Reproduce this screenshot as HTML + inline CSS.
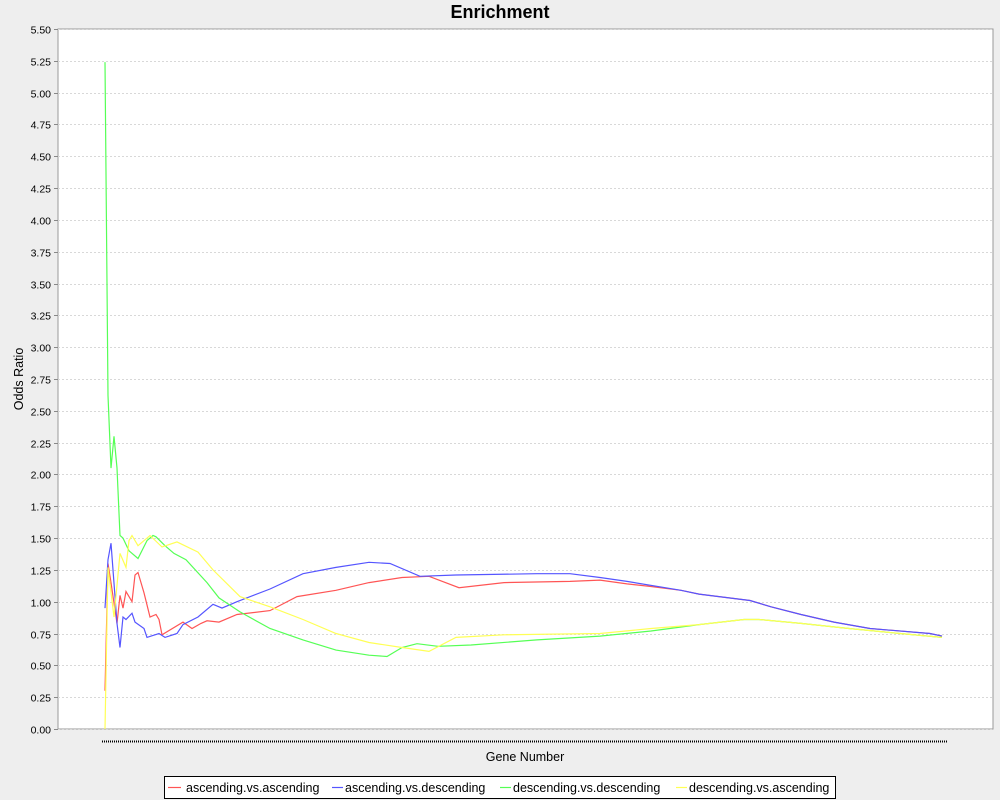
<!DOCTYPE html>
<html><head><meta charset="utf-8"><style>
html,body{margin:0;padding:0;background:#eeeeee;}
svg{display:block;font-family:"Liberation Sans","DejaVu Sans",sans-serif;}
</style></head><body>
<svg id="chart" width="1000" height="800">
<rect x="0" y="0" width="1000" height="800" fill="#eeeeee"/>
<text x="500" y="18" text-anchor="middle" font-size="18" font-weight="bold" fill="#000">Enrichment</text>
<rect x="58" y="29" width="935" height="700" fill="#ffffff" stroke="#999" stroke-width="1"/>
<g id="grid"></g>
<g id="yaxis"></g>
<line x1="102" y1="741.5" x2="948" y2="741.5" stroke="#000" stroke-width="2" stroke-dasharray="1,1"/>
<text x="525" y="761" text-anchor="middle" font-size="12.5" fill="#000">Gene Number</text>
<text transform="translate(23,379) rotate(-90)" text-anchor="middle" font-size="12.5" fill="#000">Odds Ratio</text>
<g id="series"></g>
<g>
<rect x="164.5" y="776.5" width="671" height="22" fill="#fff" stroke="#000" stroke-width="1"/>
<g><line x1="168" y1="787.5" x2="181" y2="787.5" stroke="#ff5555" stroke-width="1.2"/><text x="186" y="792" font-size="12.5">ascending.vs.ascending</text></g>
<g><line x1="332" y1="787.5" x2="343" y2="787.5" stroke="#5555ff" stroke-width="1.2"/><text x="345" y="792" font-size="12.5">ascending.vs.descending</text></g>
<g><line x1="500" y1="787.5" x2="511" y2="787.5" stroke="#55ff55" stroke-width="1.2"/><text x="513" y="792" font-size="12.5">descending.vs.descending</text></g>
<g><line x1="676" y1="787.5" x2="687" y2="787.5" stroke="#ffff55" stroke-width="1.2"/><text x="689" y="792" font-size="12.5">descending.vs.ascending</text></g>
</g>
</svg>
<script>
const yTicks = [0,0.25,0.5,0.75,1,1.25,1.5,1.75,2,2.25,2.5,2.75,3,3.25,3.5,3.75,4,4.25,4.5,4.75,5,5.25,5.5];
const redGenes = [0,1,2,4,5,6,7,9,10,11,13,15,17,18,19,26,29,32,34,38,44,55,64,77,88,99,108,118,133,155,165,174,182,192,198,215,222,232,243,255,275,279];
const redValues = [0.3,1.30,1.15,0.83,1.05,0.95,1.08,1.0,1.21,1.23,1.07,0.88,0.90,0.86,0.74,0.84,0.79,0.83,0.85,0.84,0.90,0.93,1.04,1.09,1.15,1.19,1.20,1.11,1.15,1.16,1.17,1.14,1.12,1.09,1.06,1.01,0.96,0.90,0.84,0.79,0.75,0.73];
const blueGenes = [0,1,2,4,5,6,7,9,10,13,14,18,20,24,26,31,36,39,44,55,66,77,88,95,105,117,144,155,165,174,192,198,215,222,232,243,255,275,279];
const blueValues = [0.95,1.33,1.46,0.83,0.64,0.88,0.86,0.91,0.84,0.79,0.72,0.75,0.72,0.75,0.82,0.88,0.98,0.95,1.0,1.10,1.22,1.27,1.31,1.30,1.20,1.21,1.22,1.22,1.19,1.16,1.09,1.06,1.01,0.96,0.90,0.84,0.79,0.75,0.73];
const greenGenes = [0,1,2,3,4,5,6,7,8,11,14,16,17,20,23,27,34,38,45,55,66,77,88,94,99,104,111,122,144,165,182,198,213,218,232,248,265,279];
const greenValues = [5.24,2.62,2.05,2.30,2.05,1.52,1.50,1.45,1.40,1.34,1.48,1.52,1.51,1.44,1.38,1.33,1.15,1.03,0.92,0.79,0.70,0.62,0.58,0.57,0.64,0.67,0.65,0.66,0.70,0.73,0.77,0.82,0.86,0.86,0.83,0.79,0.75,0.72];
const yellowGenes = [0,1,3,5,7,8,9,11,15,19,24,31,36,45,55,66,77,88,99,108,117,133,165,182,198,213,218,232,248,265,279];
const yellowValues = [0.0,1.27,0.88,1.38,1.27,1.48,1.52,1.44,1.52,1.43,1.47,1.39,1.25,1.04,0.96,0.86,0.75,0.68,0.64,0.61,0.72,0.74,0.75,0.79,0.82,0.86,0.86,0.83,0.79,0.75,0.72];

const NS='http://www.w3.org/2000/svg';
function xScale(g){return 105 + g*(840/280);}
function yScale(v){return 729 - v*(700/5.5);}
const grid=document.getElementById('grid'), yaxis=document.getElementById('yaxis');
yTicks.forEach(t=>{
  const y=Math.round(yScale(t))+0.5;
  const l=document.createElementNS(NS,'line');
  l.setAttribute('x1',58);l.setAttribute('x2',993);l.setAttribute('y1',y);l.setAttribute('y2',y);
  l.setAttribute('stroke','#d8d8d8');l.setAttribute('stroke-dasharray','2,2');
  
  
  grid.appendChild(l);
  const tk=document.createElementNS(NS,'line');
  tk.setAttribute('x1',54);tk.setAttribute('x2',58);tk.setAttribute('y1',y);tk.setAttribute('y2',y);
  tk.setAttribute('stroke','#888');
  
  
  yaxis.appendChild(tk);
  const tx=document.createElementNS(NS,'text');
  tx.setAttribute('x',51);tx.setAttribute('y',y+4);tx.setAttribute('text-anchor','end');tx.setAttribute('font-size','10.5');
  tx.textContent=t.toFixed(2);
  
  
  yaxis.appendChild(tx);
});
const series=document.getElementById('series');
function draw(genes,vals,color,name){
  const p=document.createElementNS(NS,'polyline');
  p.setAttribute('points',genes.map((g,i)=>xScale(g).toFixed(1)+','+yScale(vals[i]).toFixed(1)).join(' '));
  p.setAttribute('fill','none');p.setAttribute('stroke',color);p.setAttribute('stroke-width','1.2');
  
  
  series.appendChild(p);
}
draw(redGenes,redValues,'#ff5555','line-ascending-vs-ascending');
draw(blueGenes,blueValues,'#5555ff','line-ascending-vs-descending');
draw(greenGenes,greenValues,'#55ff55','line-descending-vs-descending');
draw(yellowGenes,yellowValues,'#ffff55','line-descending-vs-ascending');
</script>
</body></html>
